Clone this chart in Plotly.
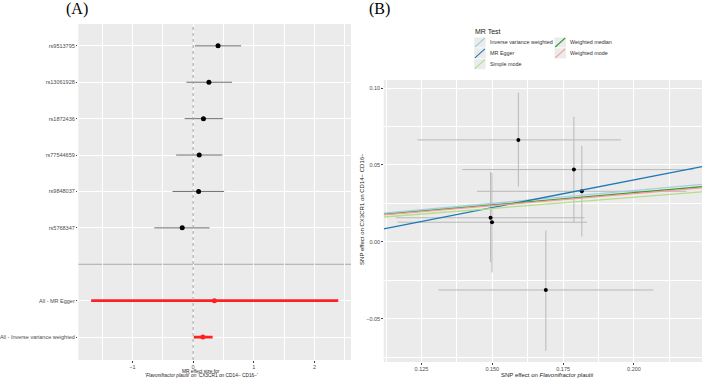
import plotly.graph_objects as go

W, H = 702, 380

# ---------------- Panel A data (forest plot) ----------------
a_labels = ["rs9513795", "rs13061928", "rs1872436", "rs77544659", "rs9848037", "rs5768347",
            "All - MR Egger", "All - Inverse variance weighted"]
a_rows = [8, 7, 6, 5, 4, 3, 1, 0]
separator_row = 2
snp_b = [0.41, 0.26, 0.17, 0.10, 0.09, -0.18]
snp_lo = [0.03, -0.11, -0.14, -0.28, -0.34, -0.64]
snp_hi = [0.79, 0.64, 0.49, 0.48, 0.51, 0.27]
sum_b = [0.35, 0.16]
sum_lo = [-1.68, 0.01]
sum_hi = [2.39, 0.32]
a_xticks = [-1, 0, 1, 2]

# ---------------- Panel B data (scatter plot) ----------------
bx = [0.1592, 0.1788, 0.1816, 0.1494, 0.1499, 0.1689]
by = [0.0663, 0.0470, 0.0329, 0.0157, 0.0128, -0.0312]
bx_lo = [0.1236, 0.1394, 0.1446, 0.1160, 0.1165, 0.1310]
bx_hi = [0.1954, 0.2209, 0.2185, 0.1825, 0.1834, 0.2068]
by_lo = [0.0360, 0.0128, 0.0035, -0.0132, -0.0198, -0.0708]
by_hi = [0.0970, 0.0813, 0.0624, 0.0455, 0.0450, 0.0074]
methods = ["Inverse variance weighted", "MR Egger", "Simple mode", "Weighted median", "Weighted mode"]
slopes = [0.167, 0.36, 0.145, 0.160, 0.157]
intercepts = [0.0, -0.0317, 0.0, 0.0, 0.0]
m_colors = ["#a6cee3", "#1f78b4", "#b2df8a", "#33a02c", "#fb9a99"]
b_xticks = [0.125, 0.150, 0.175, 0.200]
b_xticktext = ["0.125", "0.150", "0.175", "0.200"]
b_yticks = [-0.05, 0.0, 0.05, 0.10]
b_yticktext = ["\u22120.05", "0.00", "0.05", "0.10"]

BX_RANGE = [0.1117, 0.224]
BY_RANGE = [-0.078, 0.1052]


def px(x):
    return x / W


def py(y):
    return 1 - y / H


fig = go.Figure()

# Panel A: SNP estimates
fig.add_trace(go.Scatter(
    x=snp_b, y=a_rows[:6], mode="markers",
    marker=dict(color="black", size=5),
    error_x=dict(type="data", symmetric=False,
                 array=[h - b for h, b in zip(snp_hi, snp_b)],
                 arrayminus=[b - l for b, l in zip(snp_b, snp_lo)],
                 color="#707070", thickness=1, width=0),
    xaxis="x", yaxis="y", showlegend=False))
# Panel A: summary estimates
fig.add_trace(go.Scatter(
    x=sum_b, y=a_rows[6:], mode="markers",
    marker=dict(color="#ff2020", size=5),
    error_x=dict(type="data", symmetric=False,
                 array=[h - b for h, b in zip(sum_hi, sum_b)],
                 arrayminus=[b - l for b, l in zip(sum_b, sum_lo)],
                 color="#ff2020", thickness=2.8, width=0),
    xaxis="x", yaxis="y", showlegend=False))

# Panel B: points with error bars
fig.add_trace(go.Scatter(
    x=bx, y=by, mode="markers",
    marker=dict(color="black", size=4),
    error_x=dict(type="data", symmetric=False,
                 array=[h - v for h, v in zip(bx_hi, bx)],
                 arrayminus=[v - l for v, l in zip(bx, bx_lo)],
                 color="#b8b8b8", thickness=1, width=0),
    error_y=dict(type="data", symmetric=False,
                 array=[h - v for h, v in zip(by_hi, by)],
                 arrayminus=[v - l for v, l in zip(by, by_lo)],
                 color="#b8b8b8", thickness=1, width=0),
    xaxis="x2", yaxis="y2", showlegend=False))

# Panel B: regression lines
for name, s, c, col in zip(methods, slopes, intercepts, m_colors):
    fig.add_trace(go.Scatter(
        x=BX_RANGE, y=[c + s * BX_RANGE[0], c + s * BX_RANGE[1]],
        mode="lines", line=dict(color=col, width=1.3),
        name=name, xaxis="x2", yaxis="y2", showlegend=False))

# Reference lines in panel A
fig.add_shape(type="line", xref="x", yref="y domain", x0=0, x1=0, y0=0, y1=1,
              line=dict(color="#a0a0a0", width=1, dash="dot"))
fig.add_shape(type="line", xref="x domain", yref="y", x0=0, x1=1,
              y0=separator_row, y1=separator_row,
              line=dict(color="#a8a8a8", width=1), layer="below")

tickfont = dict(family="Liberation Sans, Arial, sans-serif", size=5.5, color="#4D4D4D")
axcommon = dict(showgrid=True, gridcolor="white", gridwidth=1, zeroline=False,
                ticks="outside", ticklen=1.5, tickwidth=0.6, tickcolor="#444",
                tickfont=tickfont, showline=False)

fig.update_layout(
    width=W, height=H, margin=dict(l=0, r=0, t=0, b=0),
    paper_bgcolor="white", plot_bgcolor="#EBEBEB",
    font=dict(family="Liberation Sans, Arial, sans-serif", color="#222"),
    xaxis=dict(domain=[px(73), px(348)], range=[-1.89, 2.6], anchor="y",
               tickvals=a_xticks,
               minor=dict(dtick=0.5, tick0=0, showgrid=True, gridcolor="white",
                          gridwidth=0.5, ticks=""),
               **axcommon),
    yaxis=dict(domain=[py(360), py(24)], range=[-0.63, 8.6], anchor="x",
               tickvals=a_rows, ticktext=a_labels, **axcommon),
    xaxis2=dict(domain=[px(381), 1.0], range=BX_RANGE, anchor="y2",
                tickvals=b_xticks, ticktext=b_xticktext,
                minor=dict(dtick=0.0125, tick0=0.125, showgrid=True, gridcolor="white",
                           gridwidth=0.5, ticks=""),
                **axcommon),
    yaxis2=dict(domain=[py(362), py(80)], range=BY_RANGE, anchor="x2",
                tickvals=b_yticks, ticktext=b_yticktext,
                minor=dict(dtick=0.025, tick0=0, showgrid=True, gridcolor="white",
                           gridwidth=0.5, ticks=""),
                **axcommon),
)

ann = []
# Panel labels
ann.append(dict(text="(A)", x=px(58), y=py(9), xanchor="left", yanchor="middle",
                font=dict(family="Liberation Serif, Times New Roman, serif", size=16, color="black")))
ann.append(dict(text="(B)", x=px(364), y=py(9), xanchor="left", yanchor="middle",
                font=dict(family="Liberation Serif, Times New Roman, serif", size=16, color="black")))
# Panel A x title (two lines)
ann.append(dict(text="MR effect size for", x=px(197), y=py(371.2), xanchor="center", yanchor="middle",
                font=dict(size=4.8, color="#222")))
ann.append(dict(text="'<i>Flavonifractor plautii</i>' on 'CX3CR1 on CD14\u2212 CD16\u2212'",
                x=px(197), y=py(375.8), xanchor="center", yanchor="middle",
                font=dict(size=4.8, color="#222")))
# Panel B axis titles
ann.append(dict(text="SNP effect on <i>Flavonifractor plautii</i>", x=px(546), y=py(375),
                xanchor="center", yanchor="middle", font=dict(size=6, color="#222")))
ann.append(dict(text="SNP effect on CX3CR1 on CD14\u2212 CD16\u2212", x=px(359), y=py(209),
                xanchor="center", yanchor="middle", textangle=-90, font=dict(size=6, color="#222")))

# Legend (ggplot-style keys)
ann.append(dict(text="MR Test", x=px(471.5), y=py(31), xanchor="left", yanchor="middle",
                font=dict(size=7, color="#222")))
key_pos = [(472, 42.5), (472, 53.3), (472, 64.1), (553, 42.5), (553, 53.3)]
shapes = []
for name, col, (kx, ky) in zip(methods, m_colors, key_pos):
    shapes.append(dict(type="rect", xref="paper", yref="paper",
                       x0=px(kx), x1=px(kx + 12), y0=py(ky + 5.3), y1=py(ky - 5.3),
                       fillcolor="#EBEBEB", line=dict(color="white", width=0.5), layer="below"))
    shapes.append(dict(type="line", xref="paper", yref="paper",
                       x0=px(kx + 1), x1=px(kx + 11), y0=py(ky + 4.5), y1=py(ky - 4.5),
                       line=dict(color=col, width=1.1)))
    ann.append(dict(text=name, x=px(kx + 14), y=py(ky), xanchor="left", yanchor="middle",
                    font=dict(size=5.4, color="#333")))

for a in ann:
    a.setdefault("xref", "paper")
    a.setdefault("yref", "paper")
    a["showarrow"] = False
fig.update_layout(annotations=ann)
for s in shapes:
    fig.add_shape(**s)

fig.write_html("out.html")
